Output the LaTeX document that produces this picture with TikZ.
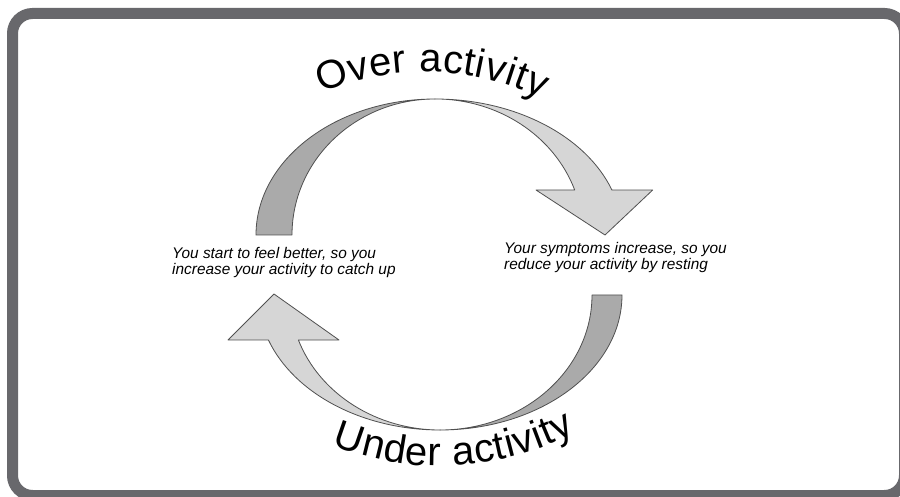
\documentclass[tikz,border=0pt]{standalone}
\usepackage{fontspec}
\setmainfont{Liberation Sans}
\usetikzlibrary{decorations.text}
\newcommand\wordartfont{\fontsize{40}{42}\selectfont}
\definecolor{framegray}{RGB}{104,104,108}
\definecolor{darkpart}{RGB}{170,170,170}
\definecolor{lightpart}{RGB}{214,214,214}
\definecolor{edgegray}{RGB}{80,80,80}
\begin{document}
\begin{tikzpicture}[x=1pt,y=1pt,
  shaftpart/.style={draw=edgegray,line width=0.8pt,line join=round},
  darkside/.style={shaftpart,fill=darkpart},
  lightside/.style={shaftpart,fill=lightpart},
  caption/.style={font=\fontsize{15.4}{16}\selectfont\itshape,align=left,inner sep=0pt,anchor=base west},
  arctext/.style={decorate,decoration={text along path,text align=fit to path,text={|\wordartfont|#1}}}]
\useasboundingbox (0,0) rectangle (900,496);
\fill[white] (0,0) rectangle (900,496);
% frame
\draw[framegray,line width=11pt,rounded corners=20pt] (12.5,0.5) rectangle (904.5,482.5);
% top arrow: dark left part
\path[darkside] (256,261) arc[start angle=180,end angle=90,x radius=179,y radius=136]
  arc[start angle=90,end angle=180,x radius=143,y radius=136] -- cycle;
% top arrow: light right part with head
\path[lightside] (435,397) arc[start angle=90,end angle=19.3,x radius=187.5,y radius=136]
  -- (652.7,306) -- (605,261) -- (536,306) -- (574.7,306)
  arc[start angle=19.3,end angle=90,x radius=148,y radius=136] -- cycle;
% bottom arrow: dark right part
\path[darkside] (622,201) arc[start angle=0,end angle=-90,x radius=182,y radius=135]
  arc[start angle=-90,end angle=0,x radius=152,y radius=135] -- cycle;
% bottom arrow: light left part with head
\path[lightside] (440,66) arc[start angle=270,end angle=199.47,x radius=182,y radius=135]
  -- (228,156) -- (274,202) -- (339,156) -- (298.4,156)
  arc[start angle=199.47,end angle=270,x radius=150.5,y radius=135] -- cycle;
% captions (anchor = baseline of the last line)
\node[caption] (feelbetter) at (172,221) {You start to feel better, so you\\increase your activity to catch up};
\node[caption] (symptoms) at (504,226) {Your symptoms increase, so you\\reduce your activity by resting};
% curved titles
\path[arctext={Over activity}] (321.5,402.9) arc[start angle=113,end angle=64,radius=265];
\path[arctext={Under activity}] (332.1,51) arc[start angle=248,end angle=298,radius=288];
\end{tikzpicture}
\end{document}
